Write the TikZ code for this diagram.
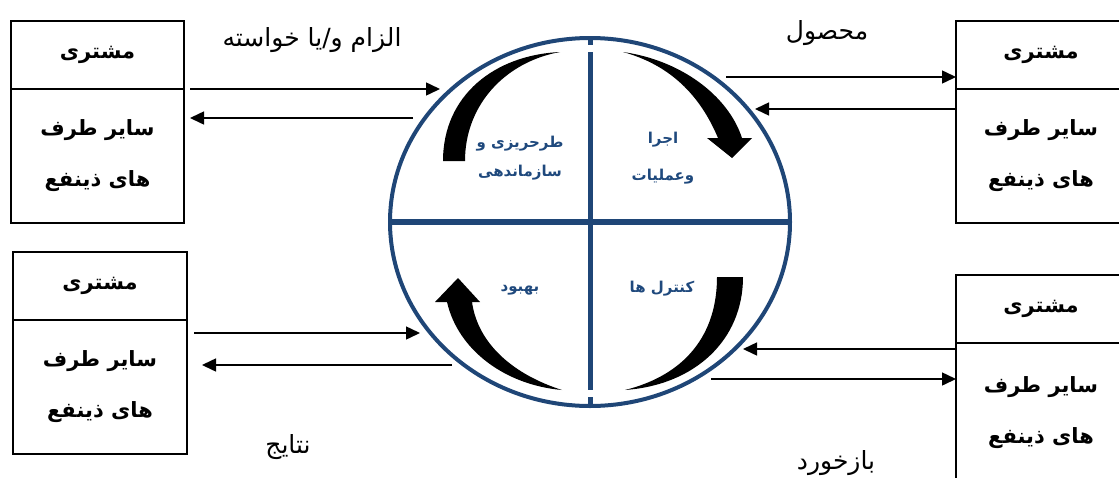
\documentclass[tikz,border=0pt]{standalone}
\usepackage{fontspec}
\newfontfamily\fa[Script=Arabic]{DejaVu Sans}
\TeXXeTstate=1
\usetikzlibrary{arrows.meta,shapes.geometric,positioning}
\definecolor{cycblue}{HTML}{1F4677}
\definecolor{labblue}{HTML}{1F497D}
\newcommand{\rtl}[1]{\beginR#1\endR}
\tikzset{
  headbox/.style={draw, line width=1.8pt, minimum height=68pt, inner sep=0pt, outer sep=0pt,
    font=\fa\bfseries\fontsize{21}{24}\selectfont},
  bodybox/.style={draw, line width=1.8pt, align=center, inner sep=0pt, outer sep=0pt,
    font=\fa\bfseries\fontsize{21}{51}\selectfont},
  flow/.style={line width=1.5pt, -{Triangle[length=14pt,width=13pt]}},
  flowlab/.style={font=\fa\fontsize{25}{28}\selectfont},
  phase/.style={text=labblue, align=center, font=\fa\bfseries\fontsize{15}{30}\selectfont},
}

\begin{document}
\begin{tikzpicture}[x=1pt, y=-1pt]
    \useasboundingbox (0,0) rectangle (1119,477);

    % جعبه‌های مشتری
    \foreach \nm/\x/\y/\w/\bh in {lt/11/21/173/134, lb/13/252/174/134,
                                  rt/956/21/170/134, rb/956/275/170/140}{
        \node[headbox, minimum width=\w pt, anchor=north west] (\nm Head) at (\x,\y) {\rtl{مشتری}};
        \node[bodybox, minimum width=\w pt, minimum height=\bh pt, anchor=north] (\nm Body)
            at (\nm Head.south) {\rtl{سایر طرف}\\\rtl{های ذینفع}};
    }

    % دایره
    \node[draw=cycblue, line width=4pt, ellipse, minimum width=400pt, minimum height=368pt,
        inner sep=0pt] (cyc) at (590,222) {};
    \draw[cycblue, line width=6pt] (cyc.west) -- (cyc.east);
    \draw[cycblue, line width=5pt] (590,37) -- (590,45);
    \draw[cycblue, line width=5pt] (590,52) -- (590,390);
    \draw[cycblue, line width=5pt] (590,397) -- (590,408);

    % پیکان‌های خمیده
    \fill (443,161) .. controls (443,95) and (495,55) .. (560,52)
        .. controls (505,62) and (465,105) .. (465,161) -- cycle;
    \fill (623,52) .. controls (680,60) and (728,95) .. (742,138) -- (752,138) -- (732,158)
        -- (707,138) -- (718,138) .. controls (700,95) and (670,65) .. (623,52) -- cycle;
    \fill (743,277) .. controls (743,340) and (695,385) .. (625,390)
        .. controls (685,375) and (717,335) .. (717,277) -- cycle;
    \fill (562,390) .. controls (505,385) and (458,350) .. (447,302) -- (435,302) -- (458,278)
        -- (480,302) -- (472,302) .. controls (478,345) and (515,375) .. (562,390) -- cycle;

    % مراحل
    \node[phase, font=\fa\bfseries\fontsize{15}{29}\selectfont] (plan) at (520,158) {\rtl{طرحریزی و}\\\rtl{سازماندهی}};
    \node[phase, font=\fa\bfseries\fontsize{15}{37}\selectfont] (exec) at (663,158) {\rtl{اجرا}\\\rtl{وعملیات}};
    \node[phase] (improve) at (520,290) {\rtl{بهبود}};
    \node[phase] (ctrl) at (662,289) {\rtl{کنترل ها}};

    % جریان‌ها
    \coordinate (ltIn) at (440,89);
    \coordinate (ltOut) at (413,118);
    \coordinate (lbIn) at (420,333);
    \coordinate (lbOut) at (452,365);
    \coordinate (rtOut) at (726,77);
    \coordinate (rtIn) at (755,109);
    \coordinate (rbIn) at (743,349);
    \coordinate (rbOut) at (711,379);
    \draw[flow, shorten <=6pt] (ltIn -| ltHead.east) -- (ltIn);
    \draw[flow, shorten >=6pt] (ltOut) -- (ltOut -| ltBody.east);
    \draw[flow, shorten <=7pt] (lbIn -| lbBody.east) -- (lbIn);
    \draw[flow, shorten >=15pt] (lbOut) -- (lbOut -| lbBody.east);
    \draw[flow] (rtOut) -- (rtOut -| rtHead.west);
    \draw[flow] (rtIn -| rtBody.west) -- (rtIn);
    \draw[flow] (rbIn -| rbBody.west) -- (rbIn);
    \draw[flow] (rbOut) -- (rbOut -| rbBody.west);

    \node[flowlab] (reqLab) at (312,40) {\rtl{الزام و/یا خواسته}};
    \node[flowlab] (prodLab) at (827,33) {\rtl{محصول}};
    \node[flowlab] (resLab) at (288,447) {\rtl{نتایج}};
    \node[flowlab] (fbLab) at (836,463) {\rtl{بازخورد}};
\end{tikzpicture}
\end{document}
